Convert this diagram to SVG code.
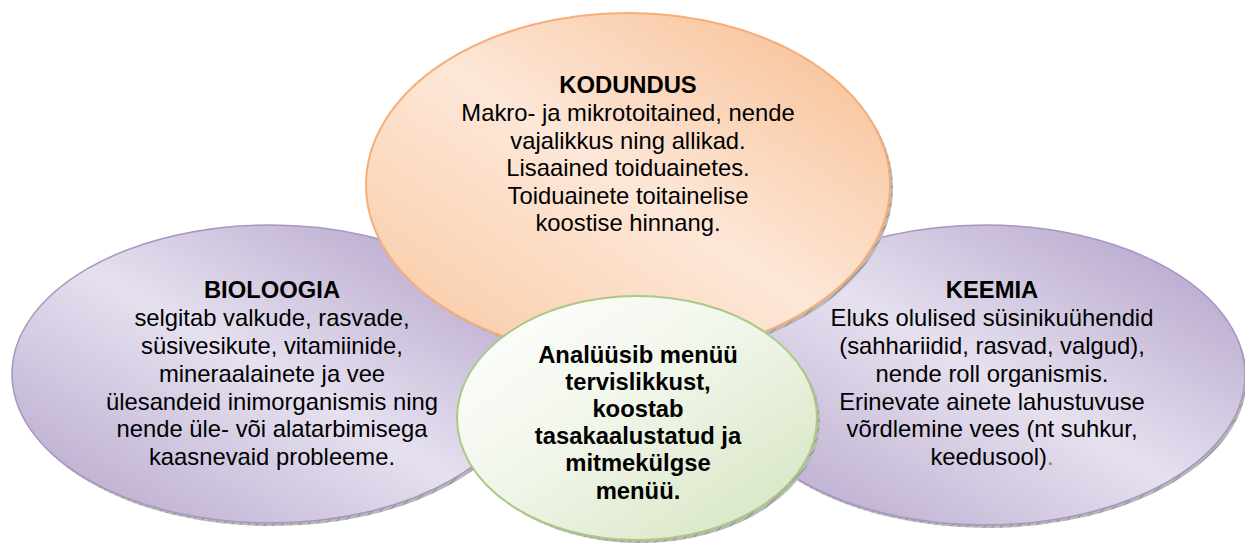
<svg xmlns="http://www.w3.org/2000/svg" width="1245" height="544" viewBox="0 0 1245 544">
  <defs>
    <linearGradient id="gPurple" x1="1" y1="0" x2="0" y2="1">
      <stop offset="0" stop-color="#ad9bc6"/>
      <stop offset="0.5" stop-color="#e6e0ef"/>
      <stop offset="1" stop-color="#b3a3ca"/>
    </linearGradient>
    <linearGradient id="gOrange" x1="1" y1="0" x2="0" y2="1">
      <stop offset="0" stop-color="#f7bb8c"/>
      <stop offset="0.5" stop-color="#fde7d8"/>
      <stop offset="1" stop-color="#f9c8a0"/>
    </linearGradient>
    <linearGradient id="gGreen" x1="0" y1="0" x2="1" y2="1">
      <stop offset="0" stop-color="#ffffff"/>
      <stop offset="0.45" stop-color="#f1f6ea"/>
      <stop offset="1" stop-color="#d3e3bd"/>
    </linearGradient>
    <pattern id="hatch" width="6" height="6" patternUnits="userSpaceOnUse" patternTransform="rotate(45)">
      <rect width="6" height="6" fill="#b8b8b8"/>
      <line x1="0" y1="0" x2="0" y2="6" stroke="#7e7e7e" stroke-width="1.5"/>
    </pattern>
  </defs>
  <style>
    .shadow { fill: url(#hatch); }
    .purple { fill: url(#gPurple); stroke: #a696c2; stroke-width: 1.5; }
    .orange { fill: url(#gOrange); stroke: #f6ae78; stroke-width: 2; }
    .green { fill: url(#gGreen); stroke: #a9c985; stroke-width: 2; }
    text { font-family: "Liberation Sans", Arial, sans-serif; font-size: 23.8px; fill: #000; text-anchor: middle; }
    .b { font-weight: bold; }
  </style>

  <g id="connectors"></g>

  <g id="bioloogia">
    <ellipse class="shadow" cx="272" cy="377" rx="258" ry="149"/>
    <ellipse class="purple" cx="270" cy="374" rx="258" ry="149"/>
    <text class="b" x="272" y="298">BIOLOOGIA</text>
    <text x="272" y="326">selgitab valkude, rasvade,</text>
    <text x="272" y="354">süsivesikute, vitamiinide,</text>
    <text x="272" y="382">mineraalainete ja vee</text>
    <text x="272" y="410">ülesandeid inimorganismis ning</text>
    <text x="272" y="437">nende üle- või alatarbimisega</text>
    <text x="272" y="465">kaasnevaid probleeme.</text>
  </g>

  <g id="keemia">
    <ellipse class="shadow" cx="987" cy="378" rx="260" ry="150"/>
    <ellipse class="purple" cx="985" cy="375" rx="260" ry="150"/>
    <text class="b" x="992" y="298">KEEMIA</text>
    <text x="992" y="326">Eluks olulised süsinikuühendid</text>
    <text x="992" y="354">(sahhariidid, rasvad, valgud),</text>
    <text x="992" y="382">nende roll organismis.</text>
    <text x="992" y="410">Erinevate ainete lahustuvuse</text>
    <text x="992" y="437">võrdlemine vees (nt suhkur,</text>
    <text x="992" y="465">keedusool)<tspan fill="#76923c">.</tspan></text>
  </g>

  <g id="kodundus">
    <ellipse class="shadow" cx="631" cy="188" rx="262" ry="172"/>
    <ellipse class="orange" cx="628" cy="185" rx="262" ry="172"/>
    <text class="b" x="628" y="93">KODUNDUS</text>
    <text x="628" y="121">Makro- ja mikrotoitained, nende</text>
    <text x="628" y="148.5">vajalikkus ning allikad.</text>
    <text x="628" y="176">Lisaained toiduainetes.</text>
    <text x="628" y="204">Toiduainete toitainelise</text>
    <text x="628" y="231">koostise hinnang.</text>
  </g>

  <g id="keskus">
    <ellipse class="shadow" cx="640" cy="421" rx="180" ry="122"/>
    <ellipse class="green" cx="637" cy="418" rx="180" ry="122"/>
    <text class="b" x="638" y="363">Analüüsib menüü</text>
    <text class="b" x="638" y="390">tervislikkust,</text>
    <text class="b" x="638" y="417">koostab</text>
    <text class="b" x="638" y="444">tasakaalustatud ja</text>
    <text class="b" x="638" y="471">mitmekülgse</text>
    <text class="b" x="638" y="499">menüü.</text>
  </g>
</svg>
